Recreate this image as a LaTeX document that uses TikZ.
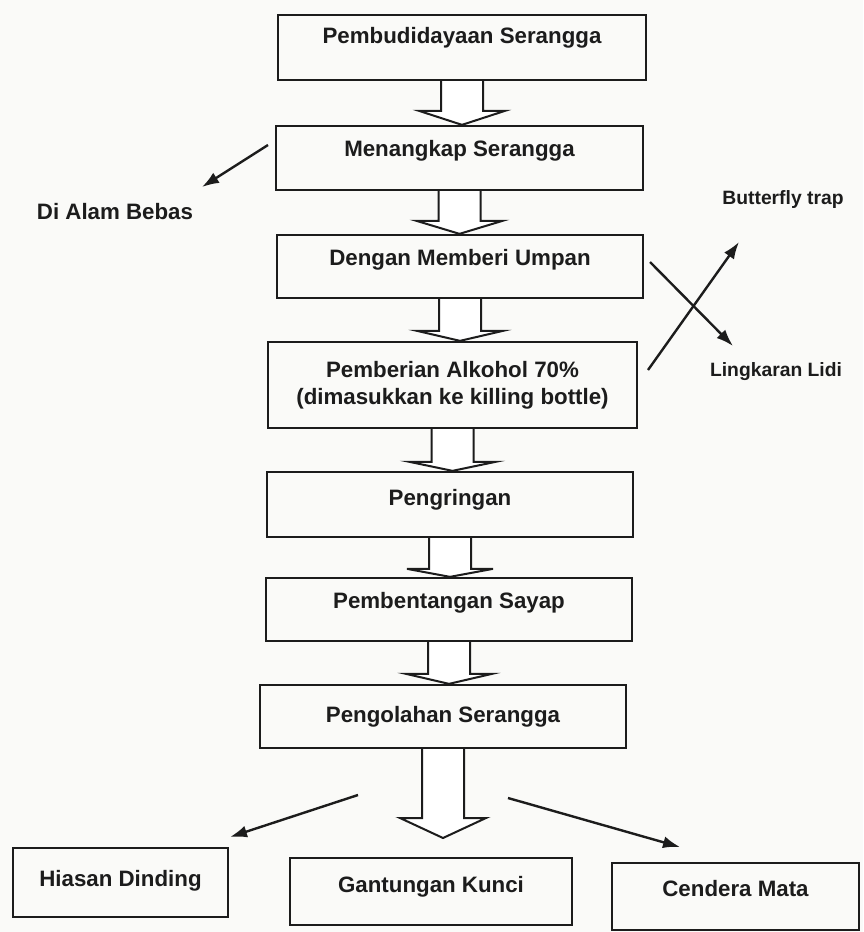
\documentclass[tikz,border=0pt]{standalone}
\usepackage{fontspec}
\setmainfont{Liberation Sans}
\usetikzlibrary{arrows.meta,calc}
\definecolor{ink}{HTML}{1C1C1C}
\definecolor{paper}{HTML}{FAFAF8}
\newcommand\blockarr[3]{%
  \draw[blockarrow] let \p1=(#1.south), \p2=(#2) in
    (\x1-21pt,\y1) -- (\x1-21pt,\y2+#3pt) -- (\x1-43pt,\y2+#3pt) -- (\x1,\y2)
    -- (\x1+43pt,\y2+#3pt) -- (\x1+21pt,\y2+#3pt) -- (\x1+21pt,\y1);}
\begin{document}
\begin{tikzpicture}[x=1pt,y=-1pt,
  box/.style={draw=ink, line width=2.3pt, inner sep=0pt, text=ink,
    font=\fontsize{22.3}{27}\selectfont\bfseries},
  lbl/.style={inner sep=0pt, text=ink, font=\fontsize{22.3}{27}\selectfont\bfseries},
  slbl/.style={inner sep=0pt, text=ink, font=\fontsize{19.3}{23}\selectfont\bfseries},
  thinarrow/.style={draw=ink, line width=2.4pt, -{Latex[length=17pt,width=12pt]}},
  blockarrow/.style={draw=ink, line width=2pt, fill=white, line join=miter}]
\fill[paper] (0,0) rectangle (863,932);
\useasboundingbox (0,0) rectangle (863,932);

% main column
\node[box, anchor=base, minimum width=368pt, text height=28pt, text depth=37pt] (b1) at (462,43) {Pembudidayaan Serangga};
\node[box, anchor=base, minimum width=367pt, text height=30pt, text depth=34pt] (b2) at (459.5,156) {Menangkap Serangga};
\node[box, anchor=base, minimum width=366pt, text height=30pt, text depth=33pt] (b3) at (460,265) {Dengan Memberi Umpan};
\node[box, align=center, minimum width=369pt, minimum height=86pt] (b4) at (452.5,385) {Pemberian Alkohol 70\%\\(dimasukkan ke killing bottle)};
\node[box, anchor=base, minimum width=366pt, text height=33pt, text depth=32pt] (b5) at (450,505) {Pengringan};
\node[box, anchor=base, minimum width=366pt, text height=30pt, text depth=33pt] (b6) at (449,608) {Pembentangan Sayap};
\node[box, anchor=base, minimum width=366pt, text height=37pt, text depth=26pt] (b7) at (443,722) {Pengolahan Serangga};

% bottom row
\node[box, anchor=base, minimum width=215pt, text height=38pt, text depth=31pt] (hd) at (120.5,886) {Hiasan Dinding};
\node[box, anchor=base, minimum width=282pt, text height=34pt, text depth=33pt] (gk) at (431,892) {Gantungan Kunci};
\node[box, anchor=base, minimum width=247pt, text height=33pt, text depth=34pt] (cm) at (735.5,896) {Cendera Mata};

% side labels
\node[lbl] (alam) at (115,212) {Di Alam Bebas};
\node[slbl] (bt) at (783,200) {Butterfly trap};
\node[slbl] (ll) at (776,372) {Lingkaran Lidi};

% block arrows
\blockarr{b1}{b2.north}{14}
\blockarr{b2}{b3.north}{13}
\blockarr{b3}{b4.north}{10}
\blockarr{b4}{b5.north}{9}
\blockarr{b5}{b6.north}{8}
\blockarr{b6}{b7.north}{10}
\coordinate (b7tip) at (444,838);
\blockarr{b7}{b7tip}{20}

% thin arrows
\coordinate (alamS) at (268,145);
\coordinate (alamE) at (202,187);
\draw[thinarrow] (alamS) -- (alamE);

\coordinate (llS) at (650,262);
\coordinate (llE) at (733,346);
\draw[thinarrow] (llS) -- (llE);
\coordinate (btS) at (648,370);
\coordinate (btE) at (739,242);
\draw[thinarrow] (btS) -- (btE);

\coordinate (hdS) at (358,795);
\coordinate (hdE) at (230,837);
\draw[thinarrow] (hdS) -- (hdE);
\coordinate (cmS) at (508,798);
\coordinate (cmE) at (680,847);
\draw[thinarrow] (cmS) -- (cmE);
\end{tikzpicture}
\end{document}
